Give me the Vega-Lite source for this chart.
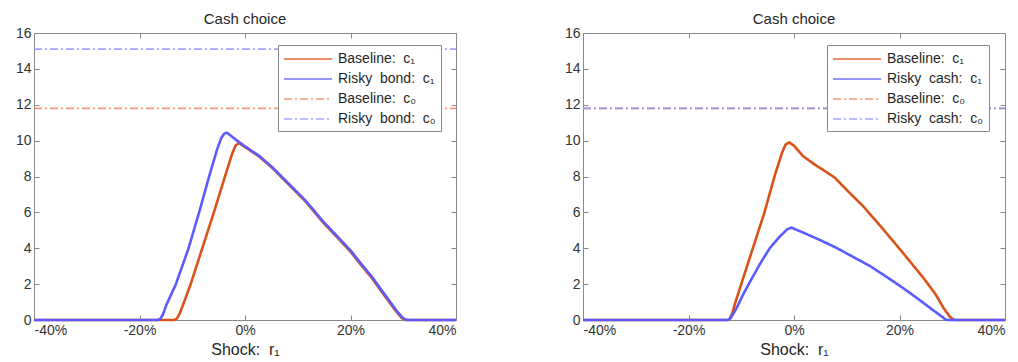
{
  "$schema": "https://vega.github.io/schema/vega-lite/v6.json",
  "padding": {"left": 14, "top": 11, "right": 5, "bottom": 5},
  "datasets": {
    "left": [
      {"s": "Baseline:\u00a0 c\u2080", "x": -40, "y": 11.8},
      {"s": "Baseline:\u00a0 c\u2080", "x": 40, "y": 11.8},
      {"s": "Risky\u00a0 bond:\u00a0 c\u2080", "x": -40, "y": 15.1},
      {"s": "Risky\u00a0 bond:\u00a0 c\u2080", "x": 40, "y": 15.1},
      {"s": "Baseline:\u00a0 c\u2081", "x": -40, "y": 0},
      {"s": "Baseline:\u00a0 c\u2081", "x": -13.4, "y": 0},
      {"s": "Baseline:\u00a0 c\u2081", "x": -12.9, "y": 0.08},
      {"s": "Baseline:\u00a0 c\u2081", "x": -12.4, "y": 0.35},
      {"s": "Baseline:\u00a0 c\u2081", "x": -11.8, "y": 0.8},
      {"s": "Baseline:\u00a0 c\u2081", "x": -10.3, "y": 2.0},
      {"s": "Baseline:\u00a0 c\u2081", "x": -8.1, "y": 4.0},
      {"s": "Baseline:\u00a0 c\u2081", "x": -5.9, "y": 6.0},
      {"s": "Baseline:\u00a0 c\u2081", "x": -3.8, "y": 8.0},
      {"s": "Baseline:\u00a0 c\u2081", "x": -2.4, "y": 9.3},
      {"s": "Baseline:\u00a0 c\u2081", "x": -1.8, "y": 9.72},
      {"s": "Baseline:\u00a0 c\u2081", "x": -1.2, "y": 9.87},
      {"s": "Baseline:\u00a0 c\u2081", "x": 0, "y": 9.64},
      {"s": "Baseline:\u00a0 c\u2081", "x": 2.65, "y": 9.12},
      {"s": "Baseline:\u00a0 c\u2081", "x": 5.2, "y": 8.47},
      {"s": "Baseline:\u00a0 c\u2081", "x": 7.7, "y": 7.73},
      {"s": "Baseline:\u00a0 c\u2081", "x": 11.5, "y": 6.6},
      {"s": "Baseline:\u00a0 c\u2081", "x": 14.65, "y": 5.49},
      {"s": "Baseline:\u00a0 c\u2081", "x": 17.3, "y": 4.66},
      {"s": "Baseline:\u00a0 c\u2081", "x": 20, "y": 3.81},
      {"s": "Baseline:\u00a0 c\u2081", "x": 22, "y": 3.07},
      {"s": "Baseline:\u00a0 c\u2081", "x": 24.1, "y": 2.32},
      {"s": "Baseline:\u00a0 c\u2081", "x": 25.7, "y": 1.66},
      {"s": "Baseline:\u00a0 c\u2081", "x": 27.3, "y": 1.02},
      {"s": "Baseline:\u00a0 c\u2081", "x": 28.7, "y": 0.46},
      {"s": "Baseline:\u00a0 c\u2081", "x": 29.7, "y": 0.12},
      {"s": "Baseline:\u00a0 c\u2081", "x": 30.2, "y": 0.02},
      {"s": "Baseline:\u00a0 c\u2081", "x": 30.6, "y": 0},
      {"s": "Baseline:\u00a0 c\u2081", "x": 40, "y": 0},
      {"s": "Risky\u00a0 bond:\u00a0 c\u2081", "x": -40, "y": 0},
      {"s": "Risky\u00a0 bond:\u00a0 c\u2081", "x": -16.5, "y": 0},
      {"s": "Risky\u00a0 bond:\u00a0 c\u2081", "x": -16.0, "y": 0.08},
      {"s": "Risky\u00a0 bond:\u00a0 c\u2081", "x": -15.5, "y": 0.35},
      {"s": "Risky\u00a0 bond:\u00a0 c\u2081", "x": -14.9, "y": 0.85},
      {"s": "Risky\u00a0 bond:\u00a0 c\u2081", "x": -13.1, "y": 2.0},
      {"s": "Risky\u00a0 bond:\u00a0 c\u2081", "x": -10.7, "y": 4.0},
      {"s": "Risky\u00a0 bond:\u00a0 c\u2081", "x": -8.7, "y": 6.0},
      {"s": "Risky\u00a0 bond:\u00a0 c\u2081", "x": -6.8, "y": 8.0},
      {"s": "Risky\u00a0 bond:\u00a0 c\u2081", "x": -5.3, "y": 9.5},
      {"s": "Risky\u00a0 bond:\u00a0 c\u2081", "x": -4.5, "y": 10.15},
      {"s": "Risky\u00a0 bond:\u00a0 c\u2081", "x": -3.9, "y": 10.4},
      {"s": "Risky\u00a0 bond:\u00a0 c\u2081", "x": -3.4, "y": 10.44},
      {"s": "Risky\u00a0 bond:\u00a0 c\u2081", "x": -2.8, "y": 10.3},
      {"s": "Risky\u00a0 bond:\u00a0 c\u2081", "x": -1.5, "y": 10.0},
      {"s": "Risky\u00a0 bond:\u00a0 c\u2081", "x": 0, "y": 9.68},
      {"s": "Risky\u00a0 bond:\u00a0 c\u2081", "x": 2.65, "y": 9.16},
      {"s": "Risky\u00a0 bond:\u00a0 c\u2081", "x": 5.2, "y": 8.51},
      {"s": "Risky\u00a0 bond:\u00a0 c\u2081", "x": 7.7, "y": 7.77},
      {"s": "Risky\u00a0 bond:\u00a0 c\u2081", "x": 11.5, "y": 6.65},
      {"s": "Risky\u00a0 bond:\u00a0 c\u2081", "x": 14.65, "y": 5.55},
      {"s": "Risky\u00a0 bond:\u00a0 c\u2081", "x": 17.3, "y": 4.72},
      {"s": "Risky\u00a0 bond:\u00a0 c\u2081", "x": 20, "y": 3.88},
      {"s": "Risky\u00a0 bond:\u00a0 c\u2081", "x": 22, "y": 3.14},
      {"s": "Risky\u00a0 bond:\u00a0 c\u2081", "x": 24.1, "y": 2.4},
      {"s": "Risky\u00a0 bond:\u00a0 c\u2081", "x": 25.7, "y": 1.74},
      {"s": "Risky\u00a0 bond:\u00a0 c\u2081", "x": 27.3, "y": 1.1},
      {"s": "Risky\u00a0 bond:\u00a0 c\u2081", "x": 28.7, "y": 0.53},
      {"s": "Risky\u00a0 bond:\u00a0 c\u2081", "x": 29.8, "y": 0.15},
      {"s": "Risky\u00a0 bond:\u00a0 c\u2081", "x": 30.4, "y": 0.03},
      {"s": "Risky\u00a0 bond:\u00a0 c\u2081", "x": 30.8, "y": 0},
      {"s": "Risky\u00a0 bond:\u00a0 c\u2081", "x": 40, "y": 0}
    ],
    "right": [
      {"s": "Baseline:\u00a0 c\u2080", "x": -40, "y": 11.8},
      {"s": "Baseline:\u00a0 c\u2080", "x": 40, "y": 11.8},
      {"s": "Risky\u00a0 cash:\u00a0 c\u2080", "x": -40, "y": 11.8},
      {"s": "Risky\u00a0 cash:\u00a0 c\u2080", "x": 40, "y": 11.8},
      {"s": "Baseline:\u00a0 c\u2081", "x": -40, "y": 0},
      {"s": "Baseline:\u00a0 c\u2081", "x": -12.6, "y": 0},
      {"s": "Baseline:\u00a0 c\u2081", "x": -12.2, "y": 0.06},
      {"s": "Baseline:\u00a0 c\u2081", "x": -11.7, "y": 0.38},
      {"s": "Baseline:\u00a0 c\u2081", "x": -11.2, "y": 0.9},
      {"s": "Baseline:\u00a0 c\u2081", "x": -10.0, "y": 2.0},
      {"s": "Baseline:\u00a0 c\u2081", "x": -7.8, "y": 4.0},
      {"s": "Baseline:\u00a0 c\u2081", "x": -5.6, "y": 6.0},
      {"s": "Baseline:\u00a0 c\u2081", "x": -3.7, "y": 8.0},
      {"s": "Baseline:\u00a0 c\u2081", "x": -2.3, "y": 9.3},
      {"s": "Baseline:\u00a0 c\u2081", "x": -1.6, "y": 9.78},
      {"s": "Baseline:\u00a0 c\u2081", "x": -0.95, "y": 9.9},
      {"s": "Baseline:\u00a0 c\u2081", "x": 0, "y": 9.72},
      {"s": "Baseline:\u00a0 c\u2081", "x": 1.7, "y": 9.14},
      {"s": "Baseline:\u00a0 c\u2081", "x": 4.0, "y": 8.65},
      {"s": "Baseline:\u00a0 c\u2081", "x": 6.0, "y": 8.28},
      {"s": "Baseline:\u00a0 c\u2081", "x": 7.7, "y": 7.94},
      {"s": "Baseline:\u00a0 c\u2081", "x": 10.5, "y": 7.1},
      {"s": "Baseline:\u00a0 c\u2081", "x": 13.1, "y": 6.35},
      {"s": "Baseline:\u00a0 c\u2081", "x": 16.5, "y": 5.2},
      {"s": "Baseline:\u00a0 c\u2081", "x": 20.1, "y": 3.94},
      {"s": "Baseline:\u00a0 c\u2081", "x": 24.5, "y": 2.36},
      {"s": "Baseline:\u00a0 c\u2081", "x": 26.85, "y": 1.43},
      {"s": "Baseline:\u00a0 c\u2081", "x": 28.3, "y": 0.69},
      {"s": "Baseline:\u00a0 c\u2081", "x": 29.5, "y": 0.2},
      {"s": "Baseline:\u00a0 c\u2081", "x": 30.2, "y": 0.03},
      {"s": "Baseline:\u00a0 c\u2081", "x": 30.7, "y": 0},
      {"s": "Baseline:\u00a0 c\u2081", "x": 40, "y": 0},
      {"s": "Risky\u00a0 cash:\u00a0 c\u2081", "x": -40, "y": 0},
      {"s": "Risky\u00a0 cash:\u00a0 c\u2081", "x": -12.6, "y": 0},
      {"s": "Risky\u00a0 cash:\u00a0 c\u2081", "x": -12.0, "y": 0.1},
      {"s": "Risky\u00a0 cash:\u00a0 c\u2081", "x": -11.0, "y": 0.6},
      {"s": "Risky\u00a0 cash:\u00a0 c\u2081", "x": -9.5, "y": 1.5},
      {"s": "Risky\u00a0 cash:\u00a0 c\u2081", "x": -8.4, "y": 2.1},
      {"s": "Risky\u00a0 cash:\u00a0 c\u2081", "x": -6.5, "y": 3.1},
      {"s": "Risky\u00a0 cash:\u00a0 c\u2081", "x": -4.6, "y": 4.0},
      {"s": "Risky\u00a0 cash:\u00a0 c\u2081", "x": -2.7, "y": 4.65},
      {"s": "Risky\u00a0 cash:\u00a0 c\u2081", "x": -1.3, "y": 5.05},
      {"s": "Risky\u00a0 cash:\u00a0 c\u2081", "x": -0.5, "y": 5.15},
      {"s": "Risky\u00a0 cash:\u00a0 c\u2081", "x": 0.3, "y": 5.05},
      {"s": "Risky\u00a0 cash:\u00a0 c\u2081", "x": 1.7, "y": 4.88},
      {"s": "Risky\u00a0 cash:\u00a0 c\u2081", "x": 5.0, "y": 4.45},
      {"s": "Risky\u00a0 cash:\u00a0 c\u2081", "x": 8.0, "y": 4.03},
      {"s": "Risky\u00a0 cash:\u00a0 c\u2081", "x": 11.0, "y": 3.55},
      {"s": "Risky\u00a0 cash:\u00a0 c\u2081", "x": 14.4, "y": 3.01},
      {"s": "Risky\u00a0 cash:\u00a0 c\u2081", "x": 17.2, "y": 2.47},
      {"s": "Risky\u00a0 cash:\u00a0 c\u2081", "x": 20.1, "y": 1.9},
      {"s": "Risky\u00a0 cash:\u00a0 c\u2081", "x": 22.4, "y": 1.42},
      {"s": "Risky\u00a0 cash:\u00a0 c\u2081", "x": 24.5, "y": 0.96},
      {"s": "Risky\u00a0 cash:\u00a0 c\u2081", "x": 26.5, "y": 0.52},
      {"s": "Risky\u00a0 cash:\u00a0 c\u2081", "x": 28.3, "y": 0.13},
      {"s": "Risky\u00a0 cash:\u00a0 c\u2081", "x": 28.7, "y": 0.03},
      {"s": "Risky\u00a0 cash:\u00a0 c\u2081", "x": 29.2, "y": 0},
      {"s": "Risky\u00a0 cash:\u00a0 c\u2081", "x": 40, "y": 0}
    ]
  },
  "hconcat": [
    {
      "title": {"text": "Cash choice", "offset": -1},
      "width": 422,
      "height": 287,
      "data": {"name": "left"},
      "encoding": {
        "color": {"field": "s", "type": "nominal", "title": null,
                  "scale": {"domain": ["Baseline:\u00a0 c\u2081", "Risky\u00a0 bond:\u00a0 c\u2081", "Baseline:\u00a0 c\u2080", "Risky\u00a0 bond:\u00a0 c\u2080"],
                            "range": ["#D95319", "#5B5BFF", "#EC8660", "#9393FF"]},
                  "legend": {"encode": {"symbols": {"update": {"strokeWidth": {"signal": "indexof(datum.label, '\u2081') >= 0 ? 2.6 : 1.6"}}}}}},
        "strokeDash": {"field": "s", "type": "nominal", "title": null,
                       "scale": {"domain": ["Baseline:\u00a0 c\u2081", "Risky\u00a0 bond:\u00a0 c\u2081", "Baseline:\u00a0 c\u2080", "Risky\u00a0 bond:\u00a0 c\u2080"],
                                 "range": [[1, 0], [1, 0], [8, 3, 2, 3], [8, 3, 2, 3]]}}
      },
      "layer": [
        {
          "transform": [{"filter": "indexof(datum.s, 'c\u2080') >= 0"}],
          "mark": {"type": "line", "strokeWidth": 1.6, "opacity": 0.85},
          "encoding": {
            "x": {"field": "x", "type": "quantitative", "scale": {"domain": [-40, 40], "nice": false},
                  "axis": {"orient": "top", "labels": false, "grid": false, "title": null, "values": [-40, -20, 0, 20, 40]}},
            "y": {"field": "y", "type": "quantitative", "scale": {"domain": [0, 16], "nice": false},
                  "axis": {"orient": "right", "labels": false, "grid": false, "title": null, "values": [0, 2, 4, 6, 8, 10, 12, 14, 16]}}
          }
        },
        {
          "transform": [{"filter": "indexof(datum.s, 'c\u2081') >= 0"}],
          "mark": {"type": "line", "strokeWidth": 2.6},
          "encoding": {
            "x": {"field": "x", "type": "quantitative", "scale": {"domain": [-40, 40], "nice": false},
                  "axis": {"orient": "bottom", "title": "Shock:\u00a0 r\u2081", "values": [-40, -20, 0, 20, 40], "labelExpr": "datum.value + '%'"}},
            "y": {"field": "y", "type": "quantitative", "scale": {"domain": [0, 16], "nice": false},
                  "axis": {"orient": "left", "title": null, "values": [0, 2, 4, 6, 8, 10, 12, 14, 16]}}
          }
        }
      ],
      "resolve": {"axis": {"x": "independent", "y": "independent"}}
    },
    {
      "title": {"text": "Cash choice", "offset": -1},
      "width": 422,
      "height": 287,
      "data": {"name": "right"},
      "encoding": {
        "color": {"field": "s", "type": "nominal", "title": null,
                  "scale": {"domain": ["Baseline:\u00a0 c\u2081", "Risky\u00a0 cash:\u00a0 c\u2081", "Baseline:\u00a0 c\u2080", "Risky\u00a0 cash:\u00a0 c\u2080"],
                            "range": ["#D95319", "#5B5BFF", "#EC8660", "#9393FF"]},
                  "legend": {"encode": {"symbols": {"update": {"strokeWidth": {"signal": "indexof(datum.label, '\u2081') >= 0 ? 2.6 : 1.6"}}}}}},
        "strokeDash": {"field": "s", "type": "nominal", "title": null,
                       "scale": {"domain": ["Baseline:\u00a0 c\u2081", "Risky\u00a0 cash:\u00a0 c\u2081", "Baseline:\u00a0 c\u2080", "Risky\u00a0 cash:\u00a0 c\u2080"],
                                 "range": [[1, 0], [1, 0], [8, 3, 2, 3], [8, 3, 2, 3]]}}
      },
      "layer": [
        {
          "transform": [{"filter": "indexof(datum.s, 'c\u2080') >= 0"}],
          "mark": {"type": "line", "strokeWidth": 1.6, "opacity": 0.85},
          "encoding": {
            "x": {"field": "x", "type": "quantitative", "scale": {"domain": [-40, 40], "nice": false},
                  "axis": {"orient": "top", "labels": false, "grid": false, "title": null, "values": [-40, -20, 0, 20, 40]}},
            "y": {"field": "y", "type": "quantitative", "scale": {"domain": [0, 16], "nice": false},
                  "axis": {"orient": "right", "labels": false, "grid": false, "title": null, "values": [0, 2, 4, 6, 8, 10, 12, 14, 16]}}
          }
        },
        {
          "transform": [{"filter": "indexof(datum.s, 'c\u2081') >= 0"}],
          "mark": {"type": "line", "strokeWidth": 2.6},
          "encoding": {
            "x": {"field": "x", "type": "quantitative", "scale": {"domain": [-40, 40], "nice": false},
                  "axis": {"orient": "bottom", "title": "Shock:\u00a0 r\u2081", "values": [-40, -20, 0, 20, 40], "labelExpr": "datum.value + '%'"}},
            "y": {"field": "y", "type": "quantitative", "scale": {"domain": [0, 16], "nice": false},
                  "axis": {"orient": "left", "title": null, "values": [0, 2, 4, 6, 8, 10, 12, 14, 16]}}
          }
        }
      ],
      "resolve": {"axis": {"x": "independent", "y": "independent"}}
    }
  ],
  "spacing": 127,
  "bounds": "flush",
  "resolve": {"scale": {"color": "independent", "strokeDash": "independent"}, "legend": {"color": "independent", "strokeDash": "independent"}},
  "config": {
    "font": "Liberation Sans",
    "view": {"stroke": "#8a8a8a", "strokeWidth": 1},
    "line": {"strokeCap": "butt", "strokeJoin": "round"},
    "title": {"fontSize": 15, "fontWeight": "normal", "color": "#262626", "font": "Liberation Sans"},
    "axis": {
      "domainColor": "#8a8a8a",
      "tickColor": "#8a8a8a",
      "tickSize": -5,
      "labelFont": "Liberation Sans",
      "labelFontSize": 14,
      "labelColor": "#333333",
      "labelPadding": 8,
      "gridColor": "#e4e4e4",
      "titleFont": "Liberation Sans",
      "titleFontSize": 16,
      "titleFontWeight": "normal",
      "titleColor": "#262626",
      "titlePadding": 4
    },
    "legend": {
      "orient": "none",
      "legendX": 244,
      "legendY": 12,
      "strokeColor": "#8a8a8a",
      "fillColor": "white",
      "padding": 5,
      "rowPadding": 4,
      "labelFont": "Liberation Sans",
      "labelFontSize": 14,
      "labelColor": "#262626",
      "labelLimit": 0,
      "symbolType": "M-1,0H5",
      "symbolSize": 256,
      "labelOffset": 37,
      "cornerRadius": 0
    }
  }
}
